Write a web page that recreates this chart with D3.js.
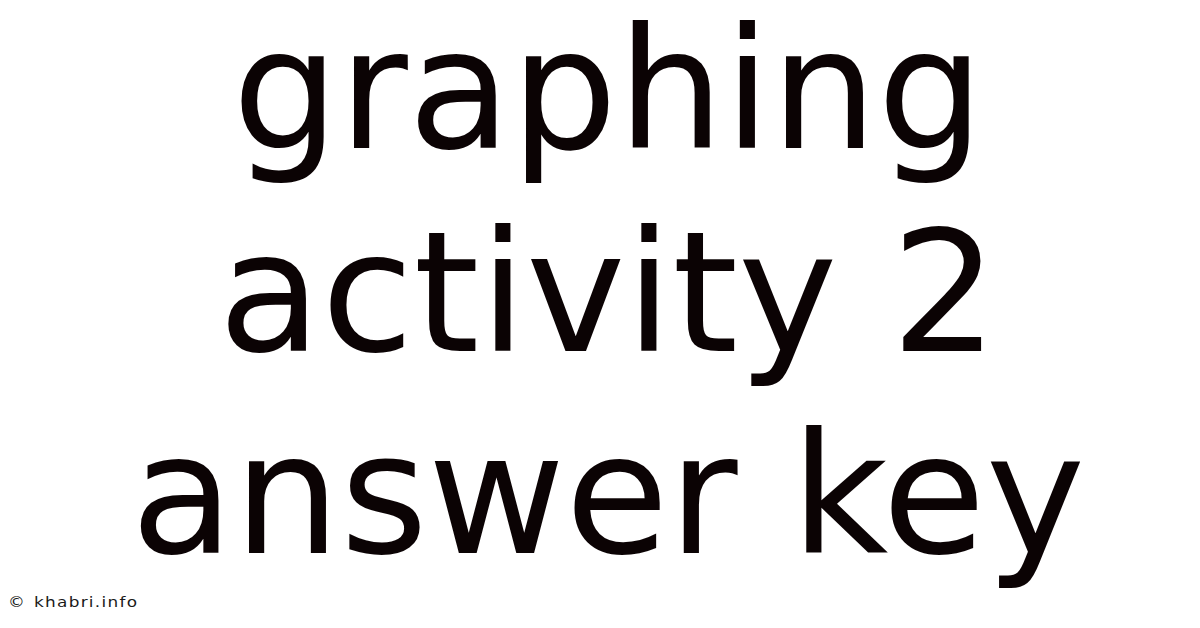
<!DOCTYPE html>
<html>
<head>
  <meta charset="utf-8">
  <script src="https://d3js.org/d3.v7.min.js"></script>
  <style>
    html, body { margin: 0; padding: 0; background: #fff; }
    svg { display: block; }
  </style>
</head>
<body>
  <svg id="card" width="1200" height="628"></svg>
  <script>
    // title lines, top to bottom
    const titleLines = ["graphing", "activity 2", "answer key"];
    const credit = "khabri.info";

    let svg = d3.select("svg#card");
    const width = +svg.attr("width");
    const height = +svg.attr("height");

    svg.append("rect")
      .attr("width", width)
      .attr("height", height)
      .attr("fill", "#fff");

    // baselines of the three lines
    let lineScale = d3.scalePoint()
      .domain(d3.range(titleLines.length))
      .range([148, 553]);

    svg.selectAll("text.title").data(titleLines)
      .join("text")
      .attr("class", "title")
      .attr("x", 608)
      .attr("y", (d, i) => lineScale(i))
      .attr("text-anchor", "middle")
      .attr("font-family", "'DejaVu Sans', sans-serif")
      .attr("font-size", 168)
      .attr("fill", "#0b0304")
      .text(d => d);

    // little watermark at the bottom left (glyphs look stretched wide)
    let copyG = svg.append("g")
      .attr("transform", "translate(8,607) scale(1.2,1)");
    copyG.append("text")
      .attr("font-family", "'DejaVu Sans', sans-serif")
      .attr("font-size", 14)
      .attr("fill", "#1a1a1a")
      .text("\u00a9");
    let creditG = svg.append("g")
      .attr("transform", "translate(34,607) scale(1.25,1)");
    creditG.append("text")
      .attr("x", 0)
      .attr("y", 0)
      .attr("font-family", "'DejaVu Sans', sans-serif")
      .attr("font-size", 13.5)
      .attr("fill", "#1a1a1a")
      .attr("textLength", 103 / 1.25)
      .attr("lengthAdjust", "spacing")
      .text(credit);
  </script>
</body>
</html>
